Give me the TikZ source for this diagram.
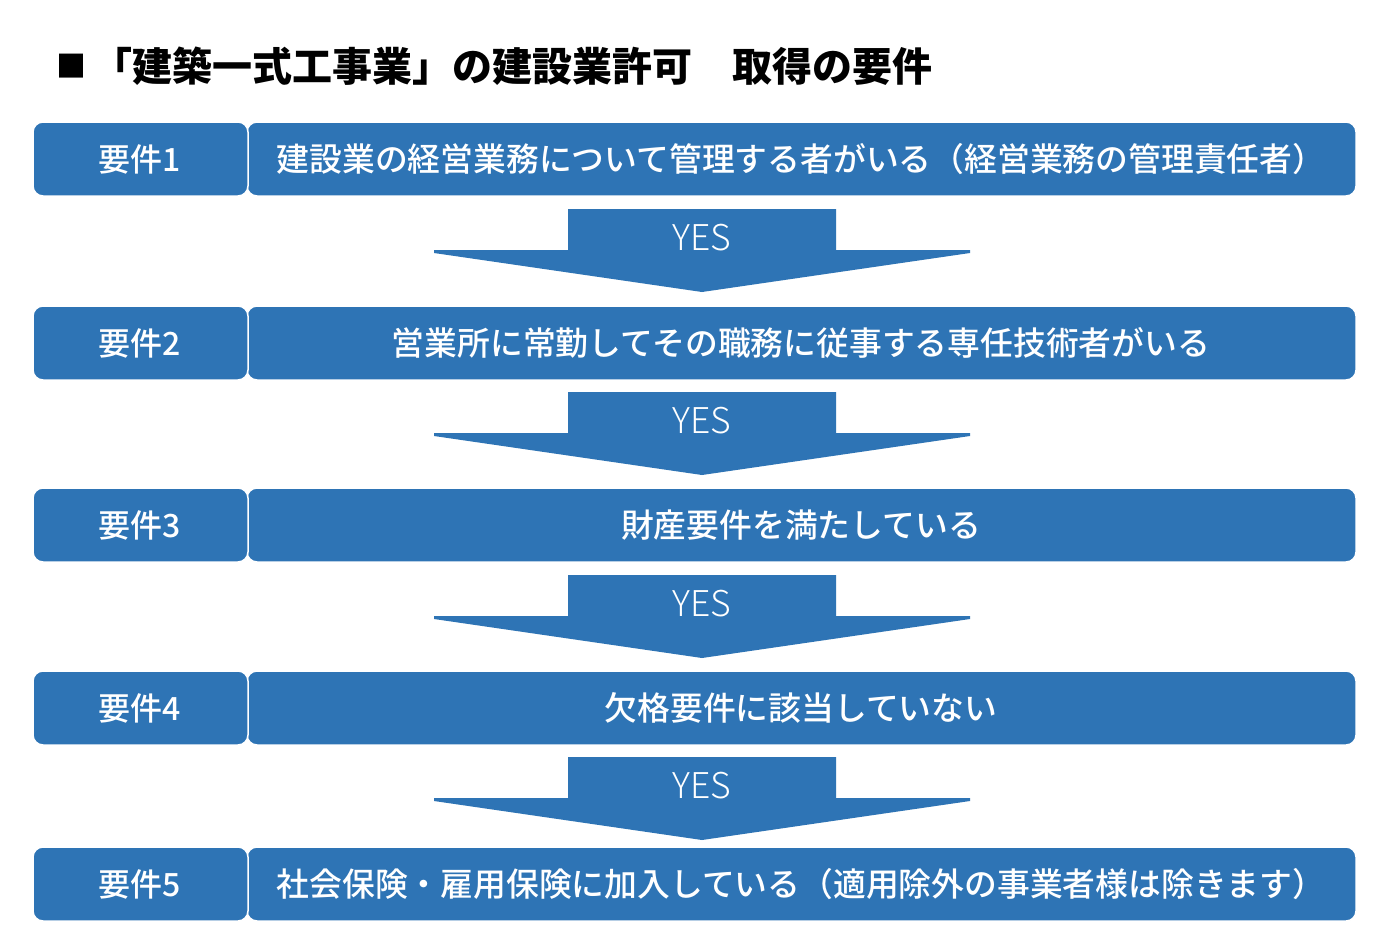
\documentclass[tikz,border=0pt]{standalone}
\usepackage{fontspec}
\setmainfont{Noto Sans CJK JP}
\newfontfamily\medfont{Noto Sans CJK JP Medium}
\newfontfamily\lightfont{Noto Sans CJK JP Light}
\newfontfamily\blackfont{Noto Sans CJK JP Black}
\definecolor{boxblue}{HTML}{2E74B5}
\begin{document}
\begin{tikzpicture}[x=1pt,y=-1pt,
  lbox/.style={fill=boxblue,draw=white,line width=1.5pt,rounded corners=10pt},
  ltext/.style={text=white,font=\fontsize{32}{38}\medfont,inner sep=0pt},
  rtext/.style={text=white,font=\fontsize{32.8}{38}\medfont,inner sep=0pt},
  yestext/.style={text=white,font=\fontsize{35.5}{40}\lightfont,inner sep=0pt},
  titletext/.style={inner sep=0pt,font=\fontsize{40}{44}\blackfont}]
\useasboundingbox (0,0) rectangle (1394,932);
\fill[white] (0,0) rectangle (1394,932);
\node[titletext,font=\fontsize{30}{34}\blackfont] (sq) at (71.5,66) {■};
\node[titletext,anchor=west] (title) at (92,66) {「建築一式工事業」の建設業許可　取得の要件};
% boxes
\foreach \i/\t in {1/122,2/306,3/488,4/671,5/847}{
  \path[lbox] (247,\t) rectangle (1356,\t+74);
  \path[lbox] (33,\t) rectangle (248,\t+74);
  \coordinate (L\i) at (140,\t+37);
  \coordinate (R\i) at (801,\t+37);
}
\node[ltext] (l1) at (L1) {要件1};
\node[ltext] (l2) at (L2) {要件2};
\node[ltext] (l3) at (L3) {要件3};
\node[ltext] (l4) at (L4) {要件4};
\node[ltext] (l5) at (L5) {要件5};
\node[rtext] (r1) at (R1) {建設業の経営業務について管理する者がいる（経営業務の管理責任者）};
\node[rtext] (r2) at (R2) {営業所に常勤してその職務に従事する専任技術者がいる};
\node[rtext] (r3) at (R3) {財産要件を満たしている};
\node[rtext] (r4) at (R4) {欠格要件に該当していない};
\node[rtext] (r5) at (R5) {社会保険・雇用保険に加入している（適用除外の事業者様は除きます）};
% arrows
\foreach \i/\t in {1/209,2/392,3/575,4/757}{
  \fill[boxblue] (568,\t) -- (836,\t) -- (836,\t+41) -- (970,\t+41) -- (970,\t+44)
     -- (702,\t+83) -- (434,\t+44) -- (434,\t+41) -- (568,\t+41) -- cycle;
  \node[yestext] (y\i) at (702,\t+29) {YES};
}
\end{tikzpicture}
\end{document}
